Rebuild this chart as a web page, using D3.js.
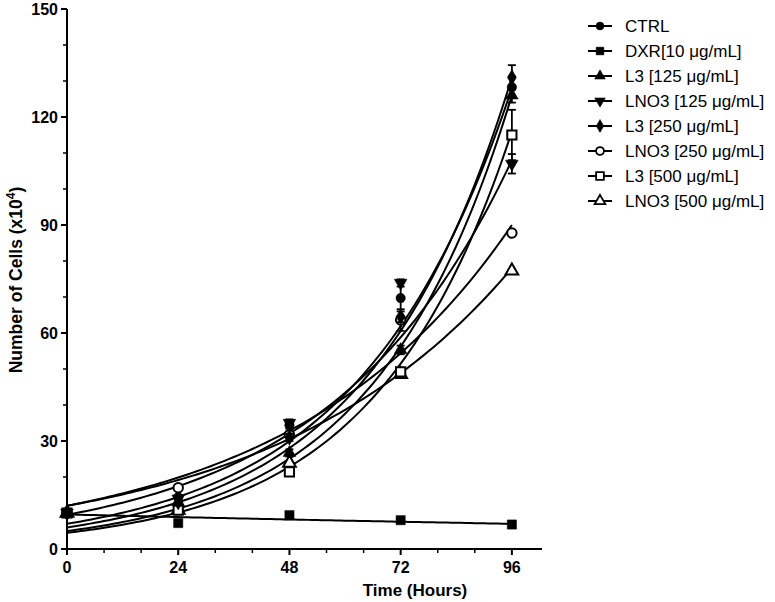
<!DOCTYPE html>
<html>
<head>
<meta charset="utf-8">
<script src="https://cdn.jsdelivr.net/npm/d3@7"></script>
<style>
  body { margin: 0; background: #fff; }
  svg { display: block; font-family: "Liberation Sans", Arial, sans-serif; }
</style>
</head>
<body>
<svg id="chart" width="775" height="602"></svg>
<script>
// ---------- data ----------
const times = [0, 24, 48, 72, 96];
const seriesNames = ["CTRL", "DXR[10 \u03BCg/mL]", "L3 [125 \u03BCg/mL]", "LNO3 [125 \u03BCg/mL]",
  "L3 [250 \u03BCg/mL]", "LNO3 [250 \u03BCg/mL]", "L3 [500 \u03BCg/mL]", "LNO3 [500 \u03BCg/mL]"];
const markerShapes = ["circle", "square", "triangle", "triangleDown", "diamond", "circle", "square", "triangle"];
const markerFilled = [true, true, true, true, true, false, false, false];

const valCTRL    = [10, 14.4, 34.4, 69.7, 128.3];
const valDXR     = [10, 7.2, 9.4, 8.0, 6.8];
const valL3_125  = [10, 13.0, 26.7, 55.3, 126.0];
const valLNO3_125= [10, 14.0, 35.0, 73.9, 107.0];
const valL3_250  = [10, 13.0, 31.0, 64.5, 131.0];
const valLNO3_250= [10, 17.0, 31.7, 63.6, 87.8];
const valL3_500  = [10, 10.8, 21.4, 49.2, 115.0];
const valLNO3_500= [10, 10.8, 23.9, 48.5, 77.3];
const values = [valCTRL, valDXR, valL3_125, valLNO3_125, valL3_250, valLNO3_250, valL3_500, valLNO3_500];

const errCTRL    = [0, 0.5, 1.0, 5.0, 3.0];
const errDXR     = [0, 0.3, 0.3, 0.3, 0.3];
const errL3_125  = [0, 0.5, 1.0, 1.2, 2.0];
const errLNO3_125= [0, 0.5, 1.0, 1.0, 2.7];
const errL3_250  = [0, 0.5, 1.0, 1.5, 3.4];
const errLNO3_250= [0, 0.5, 1.0, 3.0, 0.5];
const errL3_500  = [0, 0.5, 0.8, 1.0, 7.0];
const errLNO3_500= [0, 0.5, 0.8, 0.8, 0.5];
const errors = [errCTRL, errDXR, errL3_125, errLNO3_125, errL3_250, errLNO3_250, errL3_500, errLNO3_500];

// exponential fit curves: value at t=0 and at t=96
const fitStart = [7.0, 9.6, 5.0, 9.5, 6.0, 12.0, 4.5, 12.0];
const fitEnd   = [128.0, 7.0, 126.0, 108.0, 131.0, 90.0, 116.0, 78.0];

const xTicks = [0, 24, 48, 72, 96];
const xMinorTicks = [8, 16, 32, 40, 56, 64, 80, 88];
const yTicks = [0, 30, 60, 90, 120, 150];
const yMinorTicks = [10, 20, 40, 50, 70, 80, 100, 110, 130, 140];

// ---------- drawing ----------
const svg = d3.select("#chart");
const x = d3.scaleLinear().domain([0, 102.5]).range([67, 542]);
const y = d3.scaleLinear().domain([0, 150]).range([549, 9]);

const symbolMap = {
  circle: d3.symbolCircle, square: d3.symbolSquare, triangle: d3.symbolTriangle,
  triangleDown: d3.symbolTriangle, diamond: d3.symbolDiamond
};
function symPath(shape, size) {
  return d3.symbol().type(symbolMap[shape]).size(size)();
}
const sizeFor = { circle: 70, square: 85, triangle: 70, triangleDown: 70, diamond: 70 };

// curves
const line = d3.line().x(d => x(d[0])).y(d => y(d[1])).curve(d3.curveLinear);
const steps = d3.range(0, 96.01, 1);
const gCurves = svg.append("g");
seriesNames.forEach((n, i) => {
  const s = fitStart[i], e = fitEnd[i];
  const pts = steps.map(t => [t, s * Math.pow(e / s, t / 96)]);
  gCurves.append("path").attr("d", line(pts))
    .attr("fill", "none").attr("stroke", "#000").attr("stroke-width", 2);
});

// error bars + markers (draw last series first so CTRL/DXR on top)
const gPts = svg.append("g");
for (let i = seriesNames.length - 1; i >= 0; i--) {
  const g = gPts.append("g");
  times.forEach((t, j) => {
    const v = values[i][j], er = errors[i][j];
    if (er > 0.9) {
      g.append("line").attr("x1", x(t)).attr("x2", x(t)).attr("y1", y(v - er)).attr("y2", y(v + er))
        .attr("stroke", "#000").attr("stroke-width", 1.8);
      [v - er, v + er].forEach(ev => {
        g.append("line").attr("x1", x(t) - 4).attr("x2", x(t) + 4).attr("y1", y(ev)).attr("y2", y(ev))
          .attr("stroke", "#000").attr("stroke-width", 1.8);
      });
    }
    const shape = markerShapes[i];
    g.append("path").attr("d", symPath(shape, sizeFor[shape]))
      .attr("transform", `translate(${x(t)},${y(v)})` + (shape === "triangleDown" ? " rotate(180)" : ""))
      .attr("fill", markerFilled[i] ? "#000" : "#fff")
      .attr("stroke", "#000").attr("stroke-width", markerFilled[i] ? 0.5 : 2);
  });
}

// axes
const xAxis = svg.append("g").attr("transform", `translate(0,${y(0)})`);
xAxis.append("line").attr("x1", x(0)).attr("x2", x(102.5)).attr("stroke", "#000").attr("stroke-width", 2);
xAxis.selectAll(".maj").data(xTicks).join("line")
  .attr("x1", d => x(d)).attr("x2", d => x(d)).attr("y1", 0).attr("y2", 6)
  .attr("stroke", "#000").attr("stroke-width", 2);
xAxis.selectAll(".min").data(xMinorTicks).join("line")
  .attr("x1", d => x(d)).attr("x2", d => x(d)).attr("y1", 0).attr("y2", 4)
  .attr("stroke", "#000").attr("stroke-width", 1.5);
xAxis.selectAll("text").data(xTicks).join("text")
  .attr("x", d => x(d)).attr("y", 24).attr("text-anchor", "middle")
  .attr("font-size", 16).attr("font-weight", "bold").text(d => d);

const yAxis = svg.append("g").attr("transform", `translate(${x(0)},0)`);
yAxis.append("line").attr("y1", y(0)).attr("y2", y(150)).attr("stroke", "#000").attr("stroke-width", 2);
yAxis.selectAll(".maj").data(yTicks).join("line")
  .attr("y1", d => y(d)).attr("y2", d => y(d)).attr("x1", 0).attr("x2", -6)
  .attr("stroke", "#000").attr("stroke-width", 2);
yAxis.selectAll(".min").data(yMinorTicks).join("line")
  .attr("y1", d => y(d)).attr("y2", d => y(d)).attr("x1", 0).attr("x2", -4)
  .attr("stroke", "#000").attr("stroke-width", 1.5);
yAxis.selectAll("text").data(yTicks).join("text")
  .attr("x", -9).attr("y", d => y(d)).attr("dy", "0.35em").attr("text-anchor", "end")
  .attr("font-size", 16).attr("font-weight", "bold").text(d => d);

// axis titles
svg.append("text").attr("x", 415).attr("y", 596).attr("text-anchor", "middle")
  .attr("font-size", 17).attr("font-weight", "bold").text("Time (Hours)");
const yt = svg.append("text").attr("transform", "translate(22,280) rotate(-90)")
  .attr("text-anchor", "middle").attr("font-size", 17.5).attr("font-weight", "bold");
yt.append("tspan").text("Number of Cells (x10");
yt.append("tspan").attr("font-size", 12).attr("dy", -7).text("4");
yt.append("tspan").attr("dy", 7).text(")");

// legend
const lg = svg.append("g");
seriesNames.forEach((n, i) => {
  const ly = 26 + i * 25;
  lg.append("line").attr("x1", 588).attr("x2", 612).attr("y1", ly).attr("y2", ly)
    .attr("stroke", "#000").attr("stroke-width", 2);
  const shape = markerShapes[i];
  lg.append("path").attr("d", symPath(shape, sizeFor[shape] * 0.7))
    .attr("transform", `translate(600,${ly})` + (shape === "triangleDown" ? " rotate(180)" : ""))
    .attr("fill", markerFilled[i] ? "#000" : "#fff")
    .attr("stroke", "#000").attr("stroke-width", markerFilled[i] ? 0.5 : 1.8);
  lg.append("text").attr("x", 625).attr("y", ly).attr("dy", "0.35em")
    .attr("font-size", 17).text(n);
});
</script>
</body>
</html>
